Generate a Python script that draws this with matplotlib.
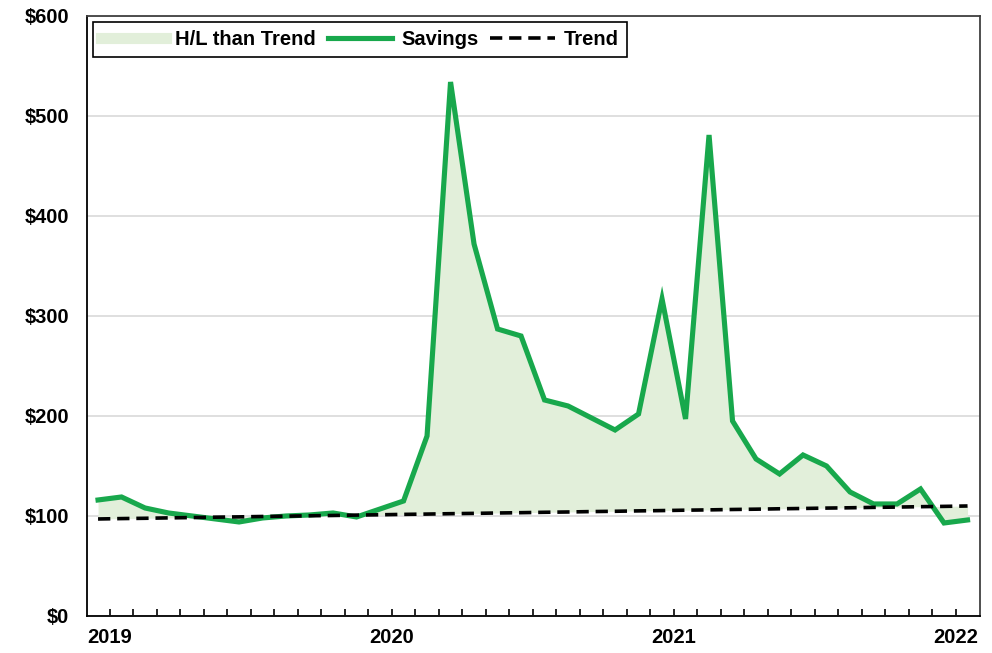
import numpy as np
import matplotlib.pyplot as plt
from matplotlib.lines import Line2D

# Monthly savings ($) and the long-run trend, Dec 2018 - Jan 2022
savings = [116, 119, 108, 103, 100, 97, 94, 98, 100, 101, 103, 99,
           107, 115, 180, 534, 372, 287, 280, 216, 210, 198, 186, 202,
           317, 197, 481, 195, 157, 142, 161, 150, 124, 112, 112, 127,
           93, 96]
trend = [97.0, 97.4, 97.7, 98.1, 98.4, 98.8, 99.1, 99.5, 99.8, 100.2,
         100.5, 100.9, 101.2, 101.6, 101.9, 102.3, 102.6, 103.0, 103.3, 103.7,
         104.0, 104.4, 104.7, 105.1, 105.4, 105.8, 106.1, 106.5, 106.8, 107.2,
         107.5, 107.9, 108.2, 108.6, 108.9, 109.3, 109.6, 110.0]
year_labels = ['2019', '2020', '2021', '2022']

plt.rcParams['font.family'] = ['Liberation Sans', 'DejaVu Sans']
plt.rcParams['font.weight'] = 'bold'

x = np.arange(len(savings))

fig = plt.figure(figsize=(9.92, 6.53), dpi=100)
ax = fig.add_axes([0.0877, 0.0567, 0.9002, 0.9188])

fill = ax.fill_between(x, trend, savings, color='#e2efda', linewidth=0, zorder=1)
line_sav, = ax.plot(x, savings, color='#18a84c', linewidth=3.7,
                    solid_joinstyle='miter', zorder=3)
line_trend, = ax.plot(x, trend, color='black', linewidth=2.6,
                      linestyle=(0, (3.4, 1.9)), zorder=4)

# y axis: dollars with light horizontal grid
ax.set_ylim(0, 600)
ax.set_yticks(np.arange(0, 601, 100))
ax.set_yticklabels(['$%d' % v for v in range(0, 601, 100)])
ax.yaxis.grid(True, color='#d9d9d9', linewidth=1.2, zorder=0)
ax.set_axisbelow(True)
ax.tick_params(axis='y', length=0, pad=13, labelsize=14.5)

# x axis: monthly tick marks, year labels every 12 months
ax.set_xlim(-0.47, 37.53)
tick_pos = np.arange(37) + 0.5
ax.set_xticks(tick_pos)
labels = [''] * len(tick_pos)
for k, lab in enumerate(year_labels):
    labels[k * 12] = lab
ax.set_xticklabels(labels)
ax.tick_params(axis='x', direction='in', length=5, width=1.2,
               labelsize=14.5, pad=9)

for side in ['left', 'bottom']:
    ax.spines[side].set_color('black')
    ax.spines[side].set_linewidth(1.3)
for side in ['top', 'right']:
    ax.spines[side].set_color('#404040')
    ax.spines[side].set_linewidth(1.3)

fill_handle = Line2D([], [], color='#e2efda', linewidth=8)
leg = ax.legend([fill_handle, line_sav, line_trend],
                ['H/L than Trend', 'Savings', 'Trend'],
                loc='upper left', ncol=3, fontsize=14.5, frameon=True,
                fancybox=False, edgecolor='black', framealpha=1,
                handlelength=3.2, handletextpad=0.45, columnspacing=0.6,
                borderpad=0.4, borderaxespad=0,
                bbox_to_anchor=(0.007, 0.99))
leg.get_frame().set_linewidth(1.2)

plt.savefig('out.png', dpi=100)
